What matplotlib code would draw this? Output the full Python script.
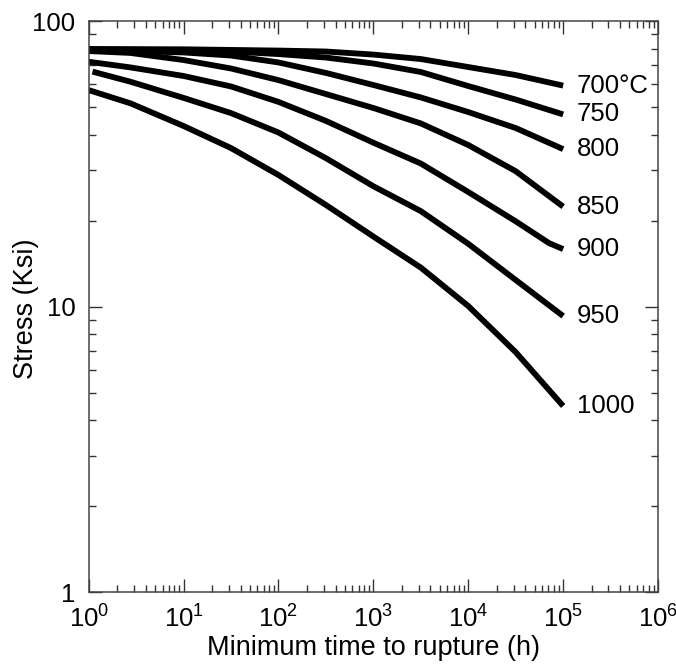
import numpy as np
import matplotlib
matplotlib.use("Agg")
import matplotlib.pyplot as plt

plt.rcParams['font.family'] = ['Liberation Sans', 'DejaVu Sans']
plt.rcParams['mathtext.fontset'] = 'custom'
plt.rcParams['mathtext.rm'] = 'Liberation Sans'
plt.rcParams['mathtext.default'] = 'regular'

# temperature labels
temps = ["700°C", "750", "800", "850", "900", "950", "1000"]

# rupture curves : log10(time in h) and stress (Ksi)
lt_700 = [0, 1, 2, 2.5, 3, 3.5, 4, 4.5, 5]
s_700 = [79.8, 79.6, 78.8, 78.2, 76.3, 73.6, 69.0, 64.7, 59.4]

lt_750 = [0, 1, 1.5, 2, 2.5, 3, 3.5, 4, 4.5, 5]
s_750 = [79.5, 79.1, 78.2, 76.6, 74.5, 71.0, 66.3, 59.2, 53.1, 47.1]

lt_800 = [0, 0.5, 1, 1.5, 2, 2.5, 3, 3.5, 4, 4.5, 5]
s_800 = [78.8, 78.5, 77.6, 75.7, 71.6, 65.8, 59.7, 54.0, 48.0, 42.2, 35.6]

lt_850 = [0, 0.44, 1, 1.5, 2, 2.5, 3, 3.5, 4, 4.5, 5]
s_850 = [78.5, 77.3, 73.0, 68.2, 62.1, 55.5, 49.6, 43.8, 36.8, 29.8, 22.4]

lt_900 = [0, 0.44, 1, 1.5, 2, 2.5, 3, 3.5, 4, 4.5, 4.85, 5]
s_900 = [72.0, 68.8, 64.2, 59.0, 52.1, 44.7, 37.5, 31.7, 25.2, 19.9, 16.7, 15.9]

lt_950 = [0.04, 0.44, 1, 1.5, 2, 2.5, 3, 3.5, 4, 4.5, 5]
s_950 = [66.5, 61.3, 53.8, 47.6, 40.7, 33.1, 26.4, 21.6, 16.6, 12.4, 9.27]

lt_1000 = [0, 0.44, 1, 1.5, 2, 2.5, 3, 3.5, 4, 4.5, 5]
s_1000 = [57.3, 51.5, 42.9, 35.9, 28.9, 22.7, 17.6, 13.7, 10.05, 6.93, 4.49]

log_times = [lt_700, lt_750, lt_800, lt_850, lt_900, lt_950, lt_1000]
stresses = [s_700, s_750, s_800, s_850, s_900, s_950, s_1000]

fig = plt.figure(figsize=(6.76, 6.67), dpi=100)
ax = fig.add_axes([0.1312, 0.112, 0.8422, 0.8565])

for lt, s, lab in zip(log_times, stresses, temps):
    t = 10 ** np.array(lt)
    ax.plot(t, s, color='black', lw=4.2, solid_capstyle='butt', solid_joinstyle='round')
    ax.annotate(lab, xy=(t[-1], s[-1]), xytext=(10, 0), textcoords='offset points',
                va='center', ha='left', fontsize=18.5)

ax.set_xscale('log')
ax.set_yscale('log')
ax.set_xlim(1, 1e6)
ax.set_ylim(1, 100)
ax.set_yticks([1, 10, 100])
ax.set_yticklabels(['1', '10', '100'])

ax.tick_params(which='both', direction='in', top=True, right=True, colors='#333333',
               labelcolor='black', labelsize=18.5)
ax.tick_params(which='major', length=9.5, width=1, pad=9.5)
ax.tick_params(which='minor', length=4.8, width=1)
for sp in ax.spines.values():
    sp.set_color('#444444')
    sp.set_linewidth(1.1)

ax.set_xlabel("Minimum time to rupture (h)", fontsize=19.5, labelpad=2)
ax.set_ylabel("Stress (Ksi)", fontsize=19.5)
ax.yaxis.set_label_coords(-0.088, 0.496)

fig.savefig("out.png", dpi=100)
